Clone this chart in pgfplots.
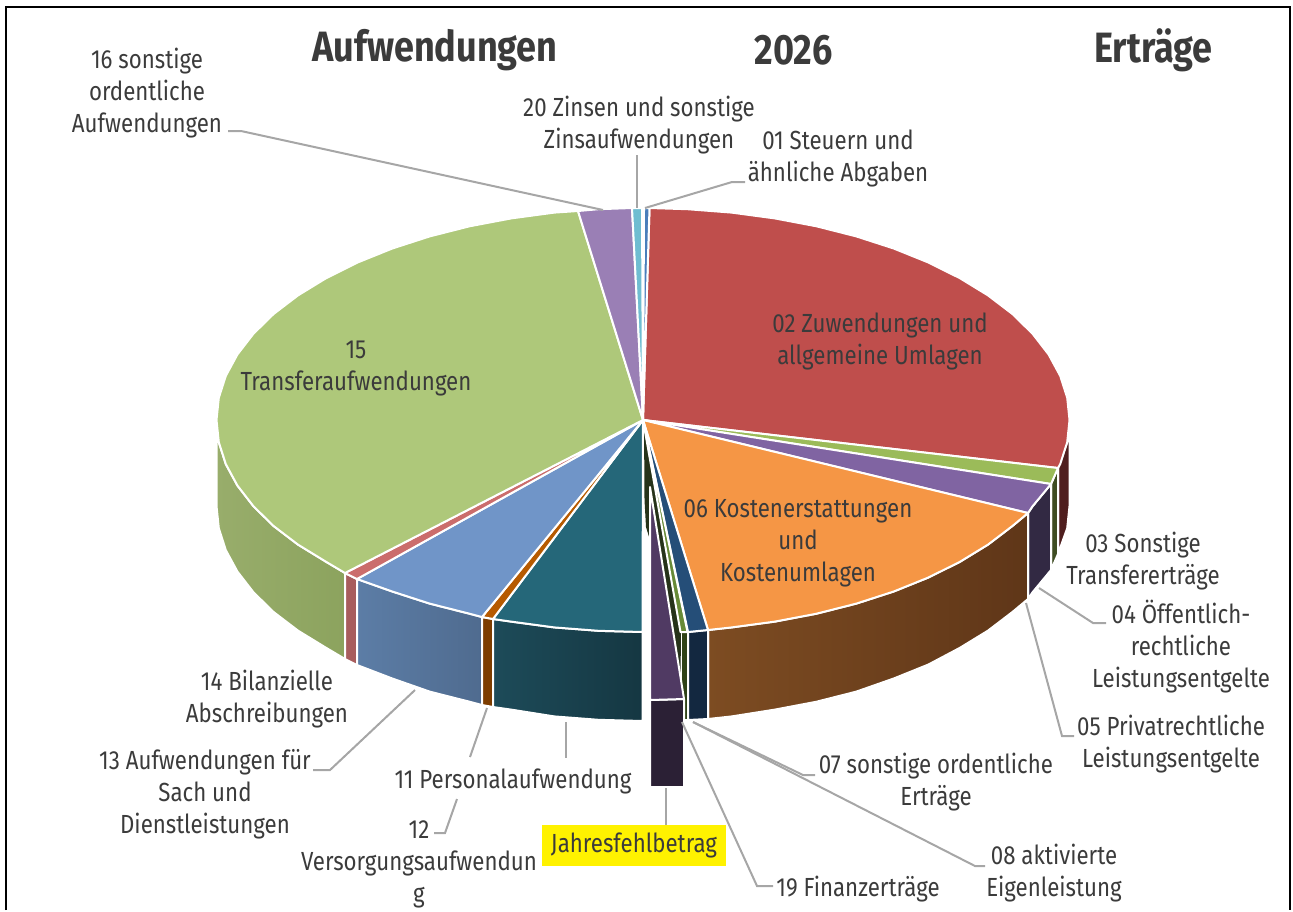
\documentclass[border=0pt]{standalone}
\usepackage{fontspec}
\setmainfont{Fira Sans}[FakeStretch=0.85]
\usepackage{pgfplots}
\pgfplotsset{compat=1.18}
\definecolor{txt}{HTML}{3B3B3B}
\definecolor{lead}{HTML}{A6A6A6}
\definecolor{sGreenA}{HTML}{98AD6B}\definecolor{sGreenB}{HTML}{8CA35E}
\definecolor{sPink}{HTML}{A85D5D}
\definecolor{sBlueA}{HTML}{5C7DA6}\definecolor{sBlueB}{HTML}{4F6B8F}
\definecolor{sBrown}{HTML}{7D3D00}
\definecolor{sTealA}{HTML}{1D4B59}\definecolor{sTealB}{HTML}{153742}
\definecolor{sRed}{HTML}{4F1E1E}
\definecolor{sLime}{HTML}{3F4D22}
\definecolor{sPurple}{HTML}{322943}
\definecolor{sOrA}{HTML}{7D4C22}\definecolor{sOrB}{HTML}{5F3618}
\definecolor{sNavy}{HTML}{132840}
\definecolor{sMoss}{HTML}{2F4217}
\definecolor{wall}{HTML}{26331A}
\definecolor{tRed}{HTML}{BF4E4C}
\definecolor{tLime}{HTML}{9BBB59}
\definecolor{tPurple}{HTML}{8064A2}
\definecolor{tOrange}{HTML}{F59645}
\definecolor{tNavy}{HTML}{254E78}
\definecolor{tMoss}{HTML}{678A37}
\definecolor{tTeal}{HTML}{256779}
\definecolor{tBrown}{HTML}{B65A00}
\definecolor{tBlue}{HTML}{7095C8}
\definecolor{tPink}{HTML}{CB6D6C}
\definecolor{tGreen}{HTML}{AEC87A}
\definecolor{tLilac}{HTML}{9A7FB5}
\definecolor{tCyan}{HTML}{6FBDD1}
\definecolor{tSky}{HTML}{4A7EBB}
\definecolor{xSide}{HTML}{2B2035}
\definecolor{xTop}{HTML}{503A63}
\begin{document}
\begin{tikzpicture}[
 lbl/.style={font=\fontsize{13.1}{16}\selectfont,text=txt,align=center,inner sep=0pt,yshift=-1pt},
 ttl/.style={font=\fontsize{21.2}{24}\selectfont\bfseries,text=txt,inner sep=0pt,yshift=-1pt}]
\begin{axis}[scale only axis,width=646.5pt,height=455pt,xmin=0,xmax=1293,ymin=0,ymax=910,y dir=reverse,
 axis lines=none,clip=false,no markers,
 face/.style={draw=white,line width=1pt,line join=round},
 leader/.style={draw=lead,line width=1pt}]
\path (axis cs:0,0) rectangle (axis cs:1293,910);
% frame
\addplot[draw=black,line width=1pt] coordinates {(6,910)(6,6.5)(1289.5,6.5)(1289.5,910)};
% side walls
\addplot[face,left color=sGreenA,right color=sGreenB] coordinates {(345,573)(326.1,561.8)(298,544.6)(273.6,526)(253.4,506.2)(237.4,485.5)(225.8,464.1)(218.8,442.2)(216.5,420)(216.5,506)(218.8,528.2)(225.8,550.1)(237.4,571.5)(253.4,592.2)(273.6,612)(298,630.6)(326.1,647.8)(345,659)} -- cycle;
\addplot[face,fill=sPink] coordinates {(345,573)(357,579)(357,665)(345,659)} -- cycle;
\addplot[face,left color=sBlueA,right color=sBlueB] coordinates {(357,579)(392.3,591.5)(429.7,603.6)(469.5,613.7)(482,617)(482,705)(469.5,701.7)(429.7,691.6)(392.3,678.5)(357,665)} -- cycle;
\addplot[face,fill=sBrown] coordinates {(482,617)(493,619)(493,707)(482,705)} -- cycle;
\addplot[face,left color=sTealA,right color=sTealB] coordinates {(493,619)(511.2,621.6)(554.3,627.4)(598.4,630.8)(642.5,632)(642.5,721)(598.4,719.8)(554.3,716.4)(511.2,709.6)(493,707)} -- cycle;
\addplot[face,fill=sRed] coordinates {(1069.5,420)(1067.2,442.2)(1058,468)(1058,554)(1067.2,528.2)(1069.5,506)} -- cycle;
\addplot[face,fill=sLime] coordinates {(1058,468)(1051,484)(1051,570)(1058,554)} -- cycle;
\addplot[face,fill=sPurple] coordinates {(1051,484)(1032.6,506.2)(1028,513)(1028,599)(1032.6,592.2)(1051,570)} -- cycle;
\addplot[face,left color=sOrA,right color=sOrB] coordinates {(1028,513)(1012.4,526)(988,544.6)(959.9,561.8)(928.4,577.5)(893.7,591.5)(856.3,603.6)(816.5,613.7)(774.8,621.6)(731.7,627.4)(708,630)(708,719)(731.7,716.4)(774.8,709.6)(816.5,701.7)(856.3,691.6)(893.7,678.5)(928.4,664.5)(959.9,647.8)(988,630.6)(1012.4,612)(1028,599)} -- cycle;
\addplot[face,fill=sNavy] coordinates {(708,630)(688,632)(688,720)(708,719)} -- cycle;
\addplot[face,fill=sMoss] coordinates {(680.5,632)(687.5,632)(687.5,720)(680.5,720)} -- cycle;
% inner wall behind the pulled-out slice
\addplot[fill=wall,draw=none] coordinates {(644,423)(681,633)(680,720)(650,540)(646,527)(644.5,500)} -- cycle;
% top faces
\addplot[face,fill=tRed] coordinates {(643,420)(649.5,208)(687.6,209.2)(731.7,212.6)(774.8,218.4)(816.5,226.3)(856.3,236.4)(893.7,248.5)(928.4,262.5)(959.9,278.2)(988,295.4)(1012.4,314)(1032.6,333.8)(1048.6,354.5)(1060.2,375.9)(1067.2,397.8)(1069.5,420)(1067.2,442.2)(1060.2,464.1)(1058,468)} -- cycle;
\addplot[face,fill=tLime] coordinates {(643,420)(1058,468)(1051,484)} -- cycle;
\addplot[face,fill=tPurple] coordinates {(643,420)(1051,484)(1032.6,506.2)(1028,513)} -- cycle;
\addplot[face,fill=tOrange] coordinates {(643,420)(1028,513)(1012.4,526)(988,544.6)(959.9,561.8)(928.4,577.5)(893.7,591.5)(856.3,603.6)(816.5,613.7)(774.8,621.6)(731.7,627.4)(708,630)} -- cycle;
\addplot[face,fill=tNavy] coordinates {(643,420)(708,630)(688,632)} -- cycle;
\addplot[face,fill=tMoss] coordinates {(643,420)(687.5,632)(680.5,632)} -- cycle;
\addplot[face,fill=tTeal] coordinates {(643,420)(642.5,632)(598.4,630.8)(554.3,627.4)(511.2,621.6)(493,619)} -- cycle;
\addplot[face,fill=tBrown] coordinates {(643,420)(493,619)(482,617)} -- cycle;
\addplot[face,fill=tBlue] coordinates {(643,420)(482,617)(469.5,613.7)(429.7,603.6)(392.3,591.5)(357,579)} -- cycle;
\addplot[face,fill=tPink] coordinates {(643,420)(357,579)(345,573)} -- cycle;
\addplot[face,fill=tGreen] coordinates {(643,420)(345,573)(326.1,561.8)(298,544.6)(273.6,526)(253.4,506.2)(237.4,485.5)(225.8,464.1)(218.8,442.2)(216.5,420)(218.8,397.8)(225.8,375.9)(237.4,354.5)(253.4,333.8)(273.6,314)(298,295.4)(326.1,278.2)(357.6,262.5)(392.3,248.5)(429.7,236.4)(469.5,226.3)(511.2,218.4)(554.3,212.6)(578,211)} -- cycle;
\addplot[face,fill=tLilac] coordinates {(643,420)(578,211)(598.4,209.2)(632,208)} -- cycle;
\addplot[face,fill=tCyan] coordinates {(643,420)(632,208)(642,208)} -- cycle;
\addplot[face,fill=tSky] coordinates {(643,420)(644,208)(649.5,208)} -- cycle;
% pulled-out slice
\addplot[face,fill=xSide] coordinates {(650,700)(684,699)(684,787)(650,787)} -- cycle;
\addplot[face,fill=xTop] coordinates {(650,487)(684,699)(650,700)} -- cycle;
% leader lines
\addplot[leader] coordinates {(228,131)(241,131)(603,210)};
\addplot[leader] coordinates {(637,155)(637,208)};
\addplot[leader] coordinates {(645,208)(732,182)(745,182)};
\addplot[leader] coordinates {(1039,588)(1093,623)(1106,623)};
\addplot[leader] coordinates {(1026,603)(1062,736)(1074,736)};
\addplot[leader] coordinates {(693,722)(803,775)(815,775)};
\addplot[leader] coordinates {(693,722)(975,866)(985,866)};
\addplot[leader] coordinates {(682,722)(757,886)(773,886)};
\addplot[leader] coordinates {(666,788)(666,825)};
\addplot[leader] coordinates {(487,708)(470,757)};
\addplot[leader] coordinates {(457,799)(445,833)(434,833)};
\addplot[leader] coordinates {(566,722)(566,758)};
\addplot[leader] coordinates {(415,690)(330,770)(313,770)};
% titles
\node[ttl] at (axis cs:435,48) {Aufwendungen};
\node[ttl] at (axis cs:793.5,48) {2026};
\node[ttl] at (axis cs:1153.5,48) {Erträge};
% labels
\node[lbl] at (axis cs:147,91) {16 sonstige\\ordentliche\\Aufwendungen};
\node[lbl] at (axis cs:639,123) {20 Zinsen und sonstige\\Zinsaufwendungen};
\node[lbl] at (axis cs:838,156) {01 Steuern und\\ähnliche Abgaben};
\node[lbl] at (axis cs:880,339) {02 Zuwendungen und\\allgemeine Umlagen};
\node[lbl] at (axis cs:356,367) {15\\Transferaufwendungen};
\node[lbl] at (axis cs:798,541) {06 Kostenerstattungen\\und\\Kostenumlagen};
\node[lbl] at (axis cs:1143,559) {03 Sonstige\\Transfererträge};
\node[lbl] at (axis cs:1181,645) {04 Öffentlich-\\rechtliche\\Leistungsentgelte};
\node[lbl] at (axis cs:1171,742) {05 Privatrechtliche\\Leistungsentgelte};
\node[lbl] at (axis cs:936,780) {07 sonstige ordentliche\\Erträge};
\node[lbl] at (axis cs:1054,871) {08 aktivierte\\Eigenleistung};
\node[lbl] at (axis cs:858,887) {19 Finanzerträge};
\node[lbl,yshift=1pt,fill=yellow,minimum width=92pt,minimum height=20.5pt] at (axis cs:634,845.5) {\raisebox{-1pt}{Jahresfehlbetrag}};
\node[lbl] at (axis cs:419,862) {12\\Versorgungsaufwendun\\g};
\node[lbl] at (axis cs:513,779) {11 Personalaufwendung};
\node[lbl] at (axis cs:205,792) {13 Aufwendungen für\\Sach und\\Dienstleistungen};
\node[lbl] at (axis cs:267,697) {14 Bilanzielle\\Abschreibungen};
\end{axis}
\end{tikzpicture}
\end{document}
